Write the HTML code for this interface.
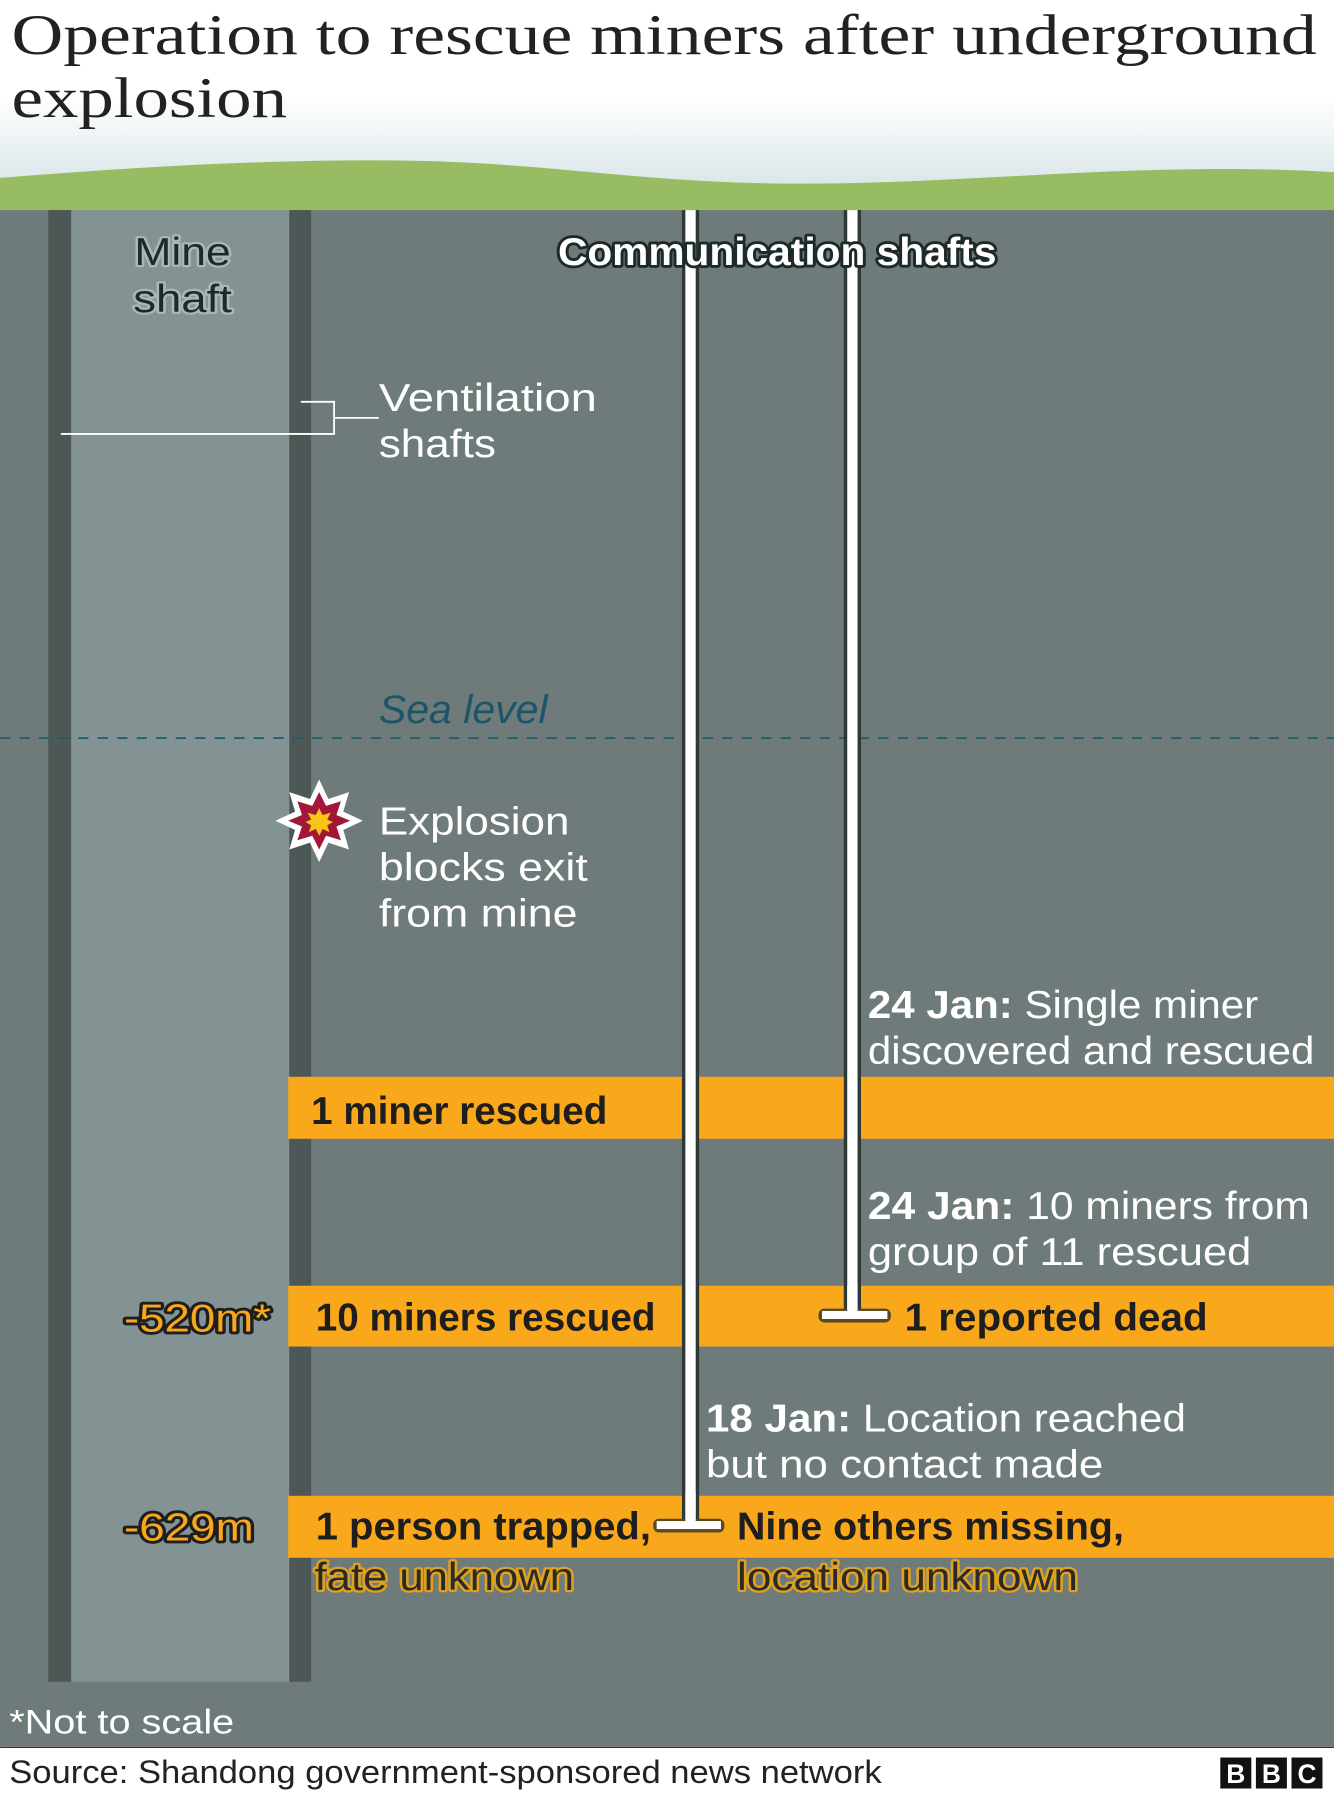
<!DOCTYPE html>
<html><head><meta charset="utf-8"><style>
html,body{margin:0;padding:0;background:#fff}
svg{display:block}
text{font-family:"Liberation Sans",sans-serif}
</style></head><body>
<svg width="1334" height="1800" viewBox="0 0 1162 1568" xmlns="http://www.w3.org/2000/svg">
<defs>
<linearGradient id="sky" x1="0" y1="0" x2="0" y2="1">
<stop offset="0" stop-color="#ffffff"/><stop offset="0.45" stop-color="#ffffff"/><stop offset="1" stop-color="#cfdfe2"/>
</linearGradient>
</defs>
<rect x="0" y="0" width="1162" height="185" fill="url(#sky)"/>
<path d="M0 155 C120 145 250 138 360 140 C480 142 560 160 700 160 C850 160 1000 140 1162 150 L1162 185 L0 185 Z" fill="#98bc62"/>
<text x="10" y="47" font-size="50" fill="#222" textLength="1137" lengthAdjust="spacingAndGlyphs" style="font-family:'Liberation Serif',serif">Operation to rescue miners after underground</text>
<text x="10" y="102" font-size="50" fill="#222" textLength="240" lengthAdjust="spacingAndGlyphs" style="font-family:'Liberation Serif',serif">explosion</text>
<rect x="0" y="183" width="1162" height="1338" fill="#6e7b7a"/>
<rect x="42" y="183" width="20" height="1282" fill="#4d5756"/>
<rect x="62" y="183" width="190" height="1282" fill="#839393"/>
<rect x="252" y="183" width="19" height="1282" fill="#4d5756"/>
<path d="M53 378 H291 V350 H262 M291 364 H330" stroke="#fff" stroke-width="1.6" fill="none"/>
<line x1="0" y1="643" x2="1162" y2="643" stroke="#1e5b6c" stroke-width="1.6" stroke-dasharray="9 8"/>
<text x="330" y="630" font-size="35" font-style="italic" fill="#1c5468" textLength="147" lengthAdjust="spacingAndGlyphs">Sea level</text>
<g fill="#f9a81c">
<rect x="251" y="938" width="911" height="54"/>
<rect x="251" y="1120" width="911" height="53"/>
<rect x="251" y="1303" width="911" height="54"/>
</g>
<rect x="594" y="183" width="15" height="1147" fill="#2e3836"/>
<rect x="597" y="183" width="9" height="1146" fill="#fff"/>
<rect x="735" y="183" width="15" height="962" fill="#2e3836"/>
<rect x="738" y="183" width="9" height="962" fill="#fff"/>
<rect x="713" y="1140" width="63" height="12" rx="5" fill="#5a4a20"/>
<rect x="716" y="1142" width="57" height="7" fill="#fff"/>
<rect x="738" y="1120" width="9" height="25" fill="#fff"/>
<rect x="569" y="1323" width="62" height="12" rx="5" fill="#5a4a20"/>
<rect x="572" y="1325" width="56" height="7" fill="#fff"/>
<rect x="597" y="1300" width="9" height="28" fill="#fff"/>
<polygon points="278,679 286,696 304,690 299,707 316,715 299,723 304,740 286,734 278,751 270,734 252,740 257,723 240,715 257,707 252,690 270,696" fill="#fff"/>
<polygon points="278,690 284,702 297,698 293,710 305,715 293,720 297,732 284,728 278,740 272,728 259,732 263,720 251,715 263,710 259,698 272,702" fill="#a0173a"/>
<polygon points="278,704 281,710 288,708 285,714 290,716 285,719 287,725 281,722 278,728 275,722 269,725 271,719 266,716 271,714 268,708 275,710" fill="#f6c516"/>
<g font-size="34" fill="#1e2a2a" stroke="#a9b7b7" stroke-width="4" paint-order="stroke" stroke-linejoin="round">
<text x="117" y="231" textLength="84" lengthAdjust="spacingAndGlyphs">Mine</text>
<text x="116" y="272" textLength="86" lengthAdjust="spacingAndGlyphs">shaft</text>
</g>
<text x="486" y="231" font-size="34" font-weight="bold" fill="#fff" stroke="#1e2a2a" stroke-width="5" paint-order="stroke" stroke-linejoin="round" textLength="382" lengthAdjust="spacingAndGlyphs">Communication shafts</text>
<g font-size="34" fill="#fff">
<text x="330" y="358" textLength="190" lengthAdjust="spacingAndGlyphs">Ventilation</text>
<text x="330" y="398" textLength="102" lengthAdjust="spacingAndGlyphs">shafts</text>
<text x="330" y="727" textLength="166" lengthAdjust="spacingAndGlyphs">Explosion</text>
<text x="330" y="767" textLength="182" lengthAdjust="spacingAndGlyphs">blocks exit</text>
<text x="330" y="807" textLength="173" lengthAdjust="spacingAndGlyphs">from mine</text>
<text x="756" y="887" textLength="340" lengthAdjust="spacingAndGlyphs"><tspan font-weight="bold">24 Jan:</tspan> Single miner</text>
<text x="756" y="927" textLength="389" lengthAdjust="spacingAndGlyphs">discovered and rescued</text>
<text x="756" y="1062" textLength="385" lengthAdjust="spacingAndGlyphs"><tspan font-weight="bold">24 Jan:</tspan> 10 miners from</text>
<text x="756" y="1102" textLength="334" lengthAdjust="spacingAndGlyphs">group of 11 rescued</text>
<text x="615" y="1247" textLength="418" lengthAdjust="spacingAndGlyphs"><tspan font-weight="bold">18 Jan:</tspan> Location reached</text>
<text x="615" y="1287" textLength="346" lengthAdjust="spacingAndGlyphs">but no contact made</text>
</g>
<g font-size="34" fill="#1e1e1e" font-weight="bold">
<text x="271" y="979" textLength="258" lengthAdjust="spacingAndGlyphs">1 miner rescued</text>
<text x="275" y="1159" textLength="296" lengthAdjust="spacingAndGlyphs">10 miners rescued</text>
<text x="788" y="1159" textLength="264" lengthAdjust="spacingAndGlyphs">1 reported dead</text>
<text x="275" y="1341" textLength="292" lengthAdjust="spacingAndGlyphs">1 person trapped,</text>
<text x="642" y="1341" textLength="337" lengthAdjust="spacingAndGlyphs">Nine others missing,</text>
</g>
<g font-size="34" fill="#2a2a2a" stroke="#e0a21c" stroke-width="4" paint-order="stroke" stroke-linejoin="round">
<text x="274" y="1385" textLength="226" lengthAdjust="spacingAndGlyphs">fate unknown</text>
<text x="642" y="1385" textLength="297" lengthAdjust="spacingAndGlyphs">location unknown</text>
</g>
<g font-size="34" fill="#f9a81c" stroke="#1e1e1e" stroke-width="5" paint-order="stroke" stroke-linejoin="round">
<text x="108" y="1160" textLength="128" lengthAdjust="spacingAndGlyphs">-520m*</text>
<text x="108" y="1342" textLength="113" lengthAdjust="spacingAndGlyphs">-629m</text>
</g>
<text x="8" y="1510" font-size="30" fill="#fff" textLength="196" lengthAdjust="spacingAndGlyphs">*Not to scale</text>
<rect x="0" y="1521" width="1162" height="47" fill="#fff"/>
<line x1="0" y1="1522" x2="1162" y2="1522" stroke="#333" stroke-width="1.5"/>
<text x="8" y="1553" font-size="28" fill="#222" textLength="760" lengthAdjust="spacingAndGlyphs">Source: Shandong government-sponsored news network</text>
<g>
<rect x="1063" y="1531" width="27" height="27" fill="#111"/>
<rect x="1094" y="1531" width="27" height="27" fill="#111"/>
<rect x="1125" y="1531" width="27" height="27" fill="#111"/>
<text x="1076.5" y="1553" font-size="23" font-weight="bold" fill="#fff" text-anchor="middle">B</text>
<text x="1107.5" y="1553" font-size="23" font-weight="bold" fill="#fff" text-anchor="middle">B</text>
<text x="1138.5" y="1553" font-size="23" font-weight="bold" fill="#fff" text-anchor="middle">C</text>
</g>
</svg>
</body></html>
